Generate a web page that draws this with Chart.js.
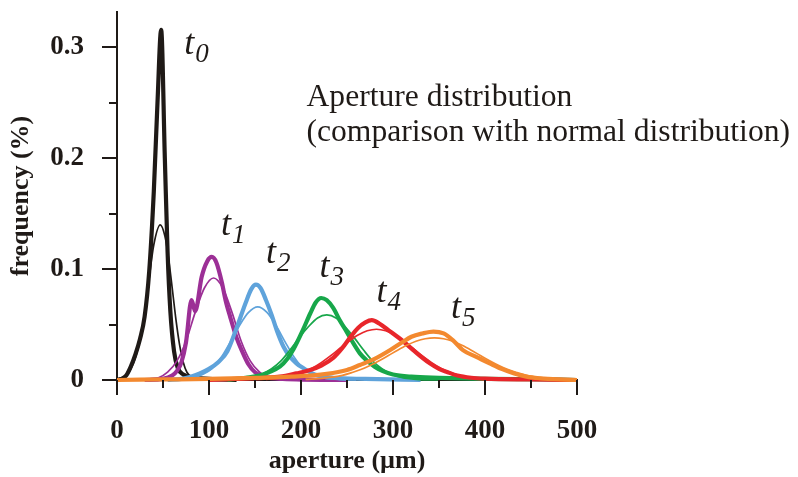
<!DOCTYPE html>
<html>
<head>
<meta charset="utf-8">
<script src="https://cdn.jsdelivr.net/npm/chart.js@4.4.1/dist/chart.umd.min.js"></script>
<style>
  html, body { margin: 0; padding: 0; background: #fff; }
  #wrap { width: 798px; height: 477px; }
</style>
</head>
<body>
<div id="wrap"><canvas id="chart" width="798" height="477"></canvas></div>
<script>
// series names + colours
const seriesNames = ['0', '1', '2', '3', '4', '5'];
const seriesColors = ['#1f1a17', '#9c2f96', '#5fa3db', '#17a74a', '#e8262b', '#f3892f'];

// measured distributions (thick lines) : [aperture µm, frequency]
const t0Measured = [[0,0],[5,0.001],[10,0.004],[15,0.012],[20,0.023],[25,0.037],[30,0.057],[35,0.098],[40,0.17],[44,0.25],[48,0.316],[52,0.2],[55,0.115],[58,0.062],[62,0.026],[66,0.011],[72,0.005],[85,0.002],[100,0.001],[130,0]];
const t1Measured = [[30,0],[50,0.001],[60,0.004],[65,0.008],[70,0.016],[75,0.034],[81,0.072],[85,0.062],[92,0.093],[98,0.107],[103,0.111],[108,0.106],[114,0.088],[118,0.072],[123,0.057],[130,0.038],[136,0.026],[143,0.014],[150,0.007],[160,0.003],[180,0.001],[250,0]];
const t2Measured = [[55,0],[70,0.001],[80,0.003],[90,0.006],[100,0.01],[110,0.016],[120,0.026],[130,0.047],[140,0.07],[146,0.082],[151,0.086],[156,0.083],[162,0.072],[168,0.059],[174,0.044],[181,0.03],[188,0.021],[195,0.015],[202,0.011],[215,0.005],[235,0.002],[270,0.001],[330,0]];
const t3Measured = [[120,0],[140,0.002],[155,0.004],[165,0.007],[177,0.012],[185,0.019],[192,0.028],[202,0.045],[210,0.06],[216,0.07],[222,0.074],[228,0.072],[235,0.065],[242,0.054],[250,0.043],[257,0.033],[264,0.024],[271,0.018],[280,0.012],[289,0.008],[300,0.005],[320,0.003],[350,0.002],[400,0.001],[470,0.0005],[500,0]];
const t4Measured = [[100,0],[130,0.001],[160,0.002],[177,0.003],[195,0.006],[210,0.009],[222,0.013],[235,0.02],[245,0.029],[253,0.038],[262,0.047],[270,0.052],[277,0.054],[285,0.051],[295,0.045],[308,0.037],[322,0.027],[332,0.02],[340,0.015],[350,0.01],[358,0.0075],[370,0.004],[385,0.002],[400,0.0012],[450,0.0005],[500,0]];
const t5Measured = [[0,0],[50,0.0005],[100,0.001],[150,0.002],[190,0.003],[228,0.0055],[250,0.009],[264,0.0135],[280,0.019],[297,0.027],[310,0.034],[320,0.039],[332,0.042],[344,0.0437],[355,0.042],[365,0.036],[376,0.027],[390,0.021],[405,0.015],[418,0.01],[431,0.006],[445,0.003],[460,0.0015],[480,0.0005],[500,0]];

// fitted normal distributions (thin lines)
const t0Normal = [[0,0.001],[10,0.004],[15,0.01],[20,0.02],[25,0.036],[30,0.06],[35,0.092],[40,0.122],[47,0.14],[52,0.13],[56,0.11],[60,0.083],[64,0.055],[68,0.032],[72,0.016],[76,0.007],[82,0.002],[95,0]];
const t1Normal = [[35,0.001],[45,0.002],[55,0.007],[65,0.017],[75,0.035],[85,0.061],[95,0.083],[105,0.092],[115,0.083],[125,0.061],[135,0.035],[145,0.017],[155,0.007],[165,0.002],[175,0.001],[200,0]];
const t2Normal = [[70,0.001],[83,0.002],[93,0.005],[103,0.01],[113,0.02],[123,0.034],[133,0.049],[143,0.061],[153,0.066],[163,0.061],[173,0.049],[183,0.034],[193,0.02],[203,0.01],[213,0.005],[223,0.002],[240,0.0005],[260,0]];
const t3Normal = [[128,0.0004],[138,0.0011],[148,0.0026],[158,0.0053],[168,0.0101],[178,0.017],[188,0.027],[198,0.038],[208,0.048],[218,0.056],[228,0.0587],[238,0.056],[248,0.048],[258,0.038],[268,0.027],[278,0.017],[288,0.0101],[298,0.0053],[308,0.0026],[318,0.0011],[328,0.0004],[350,0]];
const t4Normal = [[162,0.0006],[172,0.0012],[182,0.0023],[192,0.0041],[202,0.0069],[212,0.0107],[222,0.0157],[232,0.0217],[242,0.0284],[252,0.035],[262,0.0406],[272,0.0444],[282,0.0458],[292,0.0444],[302,0.0406],[312,0.035],[322,0.0284],[332,0.0217],[342,0.0157],[352,0.0107],[362,0.0069],[372,0.0041],[382,0.0023],[392,0.0012],[402,0.0006],[430,0]];
const t5Normal = [[205,0.0005],[225,0.0017],[245,0.0042],[255,0.0066],[265,0.0094],[275,0.0131],[285,0.0174],[295,0.0221],[305,0.0269],[315,0.0313],[325,0.0349],[335,0.0372],[345,0.038],[355,0.0372],[365,0.0349],[375,0.0313],[385,0.0269],[395,0.0221],[405,0.0174],[415,0.0131],[425,0.0094],[435,0.0066],[445,0.0042],[465,0.0017],[485,0.0005],[500,0.0002]];

// axis ticks
const xTickValues = [0, 50, 100, 150, 200, 250, 300, 350, 400, 450, 500];
const yTickValues = [0, 0.05, 0.1, 0.15, 0.2, 0.25, 0.3];

// where the t_n tags sit (data coords)
const tagAnchors = [[73, 0.2945], [113, 0.131], [162, 0.1057], [220, 0.093], [282, 0.0705], [363, 0.056]];

const measured = [t0Measured, t1Measured, t2Measured, t3Measured, t4Measured, t5Measured];
const normal = [t0Normal, t1Normal, t2Normal, t3Normal, t4Normal, t5Normal];

const ink = '#1f1a17';
const serif = "'Liberation Serif', 'Times New Roman', 'DejaVu Serif', serif";

const toPts = arr => arr.map(([x, y]) => ({ x, y }));

let datasets = [];
seriesNames.forEach((n, i) => {
  datasets.push({
    label: 't' + n + ' measured',
    data: toPts(measured[i]),
    borderColor: seriesColors[i],
    borderWidth: 4.2,
    cubicInterpolationMode: 'monotone',
    pointRadius: 0,
    fill: false,
    clip: false
  });
  datasets.push({
    label: 't' + n + ' normal',
    data: toPts(normal[i]),
    borderColor: seriesColors[i],
    borderWidth: 1.7,
    cubicInterpolationMode: 'monotone',
    pointRadius: 0,
    fill: false,
    clip: false
  });
});
// first dataset is painted on top -> orange last series on top
datasets = datasets.reverse();

const decor = {
  id: 'decor',
  beforeDraw(chart) {
    const { ctx } = chart;
    ctx.save();
    ctx.fillStyle = '#fff';
    ctx.fillRect(0, 0, chart.width, chart.height);
    ctx.restore();
  },
  afterDraw(chart) {
    const { ctx, scales: { x, y } } = chart;
    const x0 = x.left, y0 = y.bottom;
    ctx.save();
    ctx.strokeStyle = ink;
    ctx.lineWidth = 2;
    // tick marks, long on labelled ticks
    xTickValues.forEach(v => {
      const px = Math.round(x.getPixelForValue(v));
      const len = v % 100 === 0 ? 15 : 8;
      ctx.beginPath(); ctx.moveTo(px, y0); ctx.lineTo(px, y0 + len); ctx.stroke();
    });
    yTickValues.forEach(v => {
      const py = Math.round(y.getPixelForValue(v));
      const len = Math.round(v * 100) % 10 === 0 ? 15 : 8;
      ctx.beginPath(); ctx.moveTo(x0, py); ctx.lineTo(x0 - len, py); ctx.stroke();
    });

    // t_n tags
    ctx.fillStyle = ink;
    ctx.textBaseline = 'alphabetic';
    ctx.textAlign = 'left';
    tagAnchors.forEach(([ax, ay], i) => {
      const px = x.getPixelForValue(ax), py = y.getPixelForValue(ay);
      ctx.font = 'italic 36px ' + serif;
      ctx.fillText('t', px, py);
      const w = ctx.measureText('t').width;
      ctx.font = 'italic 27px ' + serif;
      ctx.fillText(seriesNames[i], px + w + 1, py + 8);
    });

    // caption
    ctx.font = '31.6px ' + serif;
    const cx = x.getPixelForValue(206);
    ctx.fillText('Aperture distribution', cx, 106);
    ctx.fillText('(comparison with normal distribution)', cx, 141);
    ctx.restore();
  }
};

new Chart(document.getElementById('chart'), {
  type: 'line',
  data: { datasets },
  plugins: [decor],
  options: {
    responsive: false,
    animation: false,
    layout: { padding: { top: 12, right: 221, left: 0, bottom: 0 } },
    plugins: { legend: { display: false }, tooltip: { enabled: false } },
    scales: {
      x: {
        type: 'linear',
        min: 0,
        max: 500,
        afterBuildTicks: s => { s.ticks = xTickValues.map(v => ({ value: v })); },
        afterFit: s => { s.height = 97; s.paddingLeft = 0; s.paddingRight = 0; },
        grid: { display: false, drawTicks: false },
        border: { display: true, color: ink, width: 2 },
        ticks: {
          color: ink,
          padding: 35,
          maxRotation: 0,
          autoSkip: false,
          font: { family: serif, size: 27, weight: 'bold' },
          callback: v => (v % 100 === 0 ? String(v) : '')
        },
        title: {
          display: true,
          text: 'aperture (µm)',
          color: ink,
          padding: { top: 0, bottom: 0 },
          font: { family: serif, size: 26, weight: 'bold' }
        }
      },
      y: {
        type: 'linear',
        min: 0,
        max: 0.332,
        afterBuildTicks: s => { s.ticks = yTickValues.map(v => ({ value: v })); },
        afterFit: s => { s.width = 117; s.paddingTop = 0; s.paddingBottom = 0; },
        grid: { display: false, drawTicks: false },
        border: { display: true, color: ink, width: 2 },
        ticks: {
          color: ink,
          padding: 33,
          autoSkip: false,
          font: { family: serif, size: 27, weight: 'bold' },
          callback: v => {
            const k = Math.round(v * 100);
            if (k % 10 !== 0) return '';
            return k === 0 ? '0' : (k / 100).toFixed(1);
          }
        },
        title: {
          display: true,
          text: 'frequency (%)',
          color: ink,
          padding: { top: 6, bottom: 0 },
          font: { family: serif, size: 26, weight: 'bold' }
        }
      }
    }
  }
});
</script>
</body>
</html>
